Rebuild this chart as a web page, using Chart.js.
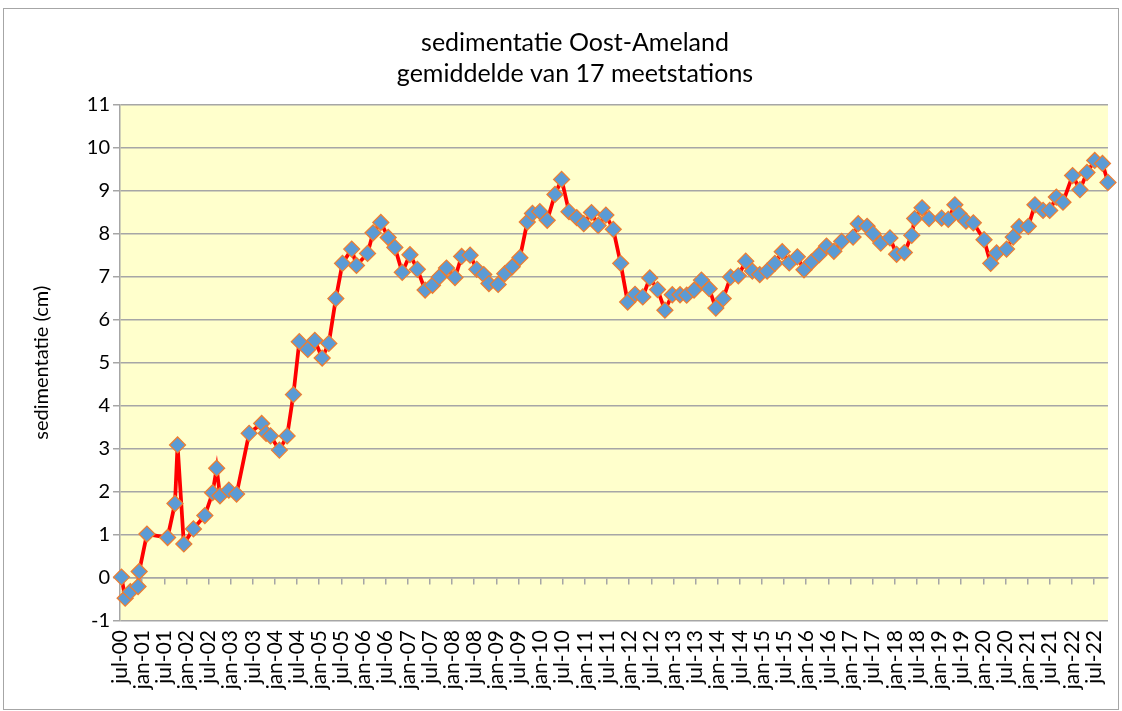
<!DOCTYPE html>
<html>
<head>
<meta charset="utf-8">
<script src="https://cdn.jsdelivr.net/npm/chart.js@4.4.1/dist/chart.umd.min.js"></script>
<style>
  body { margin: 0; background: #fff; }
</style>
</head>
<body>
<canvas id="myChart" width="1122" height="711"></canvas>
<script>
// maanden sinds 1 juli 2000 (meetmoment)
var maanden = [
    0.4, 1.4, 2.8, 4.9, 5.2, 7.3, 12.9, 14.9, 15.6, 17.3,
    19.9, 23.0, 25.1, 26.2, 27.1, 29.5, 31.6, 35.0, 38.4, 39.6,
    40.8, 43.2, 45.3, 47.0, 48.6, 50.9, 52.8, 54.8, 56.6, 58.5,
    60.3, 62.8, 64.1, 67.1, 68.6, 70.7, 72.7, 74.5, 76.5, 78.6,
    80.6, 82.7, 84.7, 86.5, 88.5, 90.8, 92.6, 94.9, 96.7, 98.6,
    100.0, 102.5, 104.3, 106.3, 108.4, 110.4, 111.8, 113.8, 115.8, 117.9,
    119.7, 121.7, 123.8, 125.7, 127.8, 129.6, 131.7, 133.7, 135.7, 137.6,
    139.6, 141.7, 143.6, 145.7, 147.7, 149.7, 151.8, 153.6, 155.6, 157.6,
    159.7, 161.5, 163.5, 165.5, 167.6, 169.6, 171.4, 173.4, 175.4, 177.5,
    179.5, 181.4, 183.6, 185.4, 187.4, 189.5, 191.5, 193.5, 195.6, 198.7,
    200.1, 202.5, 204.1, 206.2, 208.7, 210.5, 212.6, 214.6, 215.4, 217.4,
    219.3, 222.7, 224.5, 226.3, 227.4, 229.3, 231.3, 234.2, 236.0, 237.6,
    240.3, 242.1, 243.7, 246.2, 248.0, 250.2, 252.0, 253.8, 255.6, 258.2,
    260.2, 262.1, 264.2, 266.3, 267.8
];

// gemiddelde sedimentatie (cm)
var sedimentatie = [
    0.02, -0.47, -0.32, -0.20, 0.15, 1.02, 0.94, 1.73, 3.09, 0.79,
    1.14, 1.45, 1.98, 2.55, 1.91, 2.04, 1.95, 3.36, 3.59, 3.36,
    3.30, 2.97, 3.30, 4.26, 5.49, 5.31, 5.52, 5.11, 5.45, 6.49,
    7.31, 7.64, 7.26, 7.54, 8.02, 8.26, 7.91, 7.68, 7.10, 7.51,
    7.17, 6.69, 6.80, 6.99, 7.20, 6.98, 7.47, 7.50, 7.17, 7.05,
    6.84, 6.82, 7.07, 7.23, 7.44, 8.27, 8.47, 8.51, 8.31, 8.91,
    9.26, 8.51, 8.37, 8.23, 8.49, 8.19, 8.43, 8.10, 7.31, 6.41,
    6.59, 6.53, 6.97, 6.70, 6.22, 6.58, 6.58, 6.57, 6.69, 6.92,
    6.72, 6.27, 6.49, 6.99, 7.02, 7.36, 7.13, 7.05, 7.13, 7.31,
    7.58, 7.32, 7.46, 7.16, 7.34, 7.51, 7.71, 7.59, 7.82, 7.92,
    8.23, 8.17, 8.00, 7.78, 7.90, 7.52, 7.56, 7.96, 8.35, 8.60,
    8.35, 8.36, 8.33, 8.67, 8.46, 8.29, 8.25, 7.86, 7.31, 7.55,
    7.64, 7.92, 8.16, 8.17, 8.67, 8.54, 8.54, 8.85, 8.73, 9.35,
    9.02, 9.42, 9.70, 9.63, 9.19
];

// as-labels, elke 6 maanden vanaf jul-00
var xTickMaanden = [];
for (var m = 0; m <= 264; m += 6) xTickMaanden.push(m);
var xTickLabels = [
    "jul-00", "jan-01", "jul-01", "jan-02", "jul-02", "jan-03", "jul-03", "jan-04", "jul-04",
    "jan-05", "jul-05", "jan-06", "jul-06", "jan-07", "jul-07", "jan-08", "jul-08", "jan-09",
    "jul-09", "jan-10", "jul-10", "jan-11", "jul-11", "jan-12", "jul-12", "jan-13", "jul-13",
    "jan-14", "jul-14", "jan-15", "jul-15", "jan-16", "jul-16", "jan-17", "jul-17", "jan-18",
    "jul-18", "jan-19", "jul-19", "jan-20", "jul-20", "jan-21", "jul-21", "jan-22", "jul-22"
];

var xMin = 0, xMax = 267.8;
var fontName = "Lato, 'Open Sans', sans-serif";
var grijs = "#A6A6A6";
var links = 42;   // layout-padding links, zodat de titel rond x=575 staat

var punten = maanden.map(function (m, i) {
    return { x: m, y: sedimentatie[i] };
});

var zetTicks = function (scale) {
    scale.ticks = xTickMaanden.map(function (v) { return { value: v }; });
};

var achtergrond = {
    id: 'achtergrond',
    beforeDraw: function (chart) {
        var c = chart.ctx, a = chart.chartArea;
        c.save();
        c.fillStyle = '#ffffff';
        c.fillRect(0, 0, chart.width, chart.height);
        c.fillStyle = '#FFFFCC';
        c.fillRect(a.left, a.top, a.right - a.left, a.bottom - a.top);
        c.restore();
    },
    afterDraw: function (chart) {
        var c = chart.ctx;
        c.save();
        c.strokeStyle = grijs;
        c.lineWidth = 1;
        c.strokeRect(3.5, 8.5, chart.width - 7, chart.height - 10);
        c.restore();
    }
};

var ctx = document.getElementById("myChart");
var myChart = new Chart(ctx, {
    type: 'line',
    data: {
        datasets: [{
            data: punten,
            xAxisID: 'x',
            yAxisID: 'y',
            borderColor: '#FF0000',
            borderWidth: 3.75,
            pointStyle: 'rectRot',
            pointRadius: 8,
            pointBackgroundColor: '#5B9BD5',
            pointBorderColor: '#ED7D31',
            pointBorderWidth: 1.25,
            tension: 0,
            clip: false
        }]
    },
    options: {
        responsive: false,
        animation: false,
        layout: { padding: { left: links, right: 14, top: 0, bottom: 0 } },
        plugins: {
            legend: { display: false },
            tooltip: { enabled: false },
            title: {
                display: true,
                text: ['sedimentatie Oost-Ameland', 'gemiddelde van 17 meetstations'],
                color: '#000',
                font: { family: fontName, size: 25, weight: 'normal', lineHeight: 1.25 },
                padding: { top: 27, bottom: 15 }
            }
        },
        scales: {
            x: {
                type: 'linear',
                position: 'bottom',
                min: xMin,
                max: xMax,
                afterBuildTicks: zetTicks,
                afterFit: function (scale) {
                    scale.height = 90;
                    scale.paddingRight = 0;
                },
                grid: { display: false, drawTicks: false },
                border: { display: false },
                ticks: {
                    autoSkip: false,
                    maxRotation: 90,
                    minRotation: 90,
                    padding: 9,
                    color: '#000',
                    font: { family: fontName, size: 21 },
                    callback: function (v, i) { return xTickLabels[i]; }
                }
            },
            x0: {
                type: 'linear',
                position: { y: 0 },
                min: xMin,
                max: xMax,
                afterBuildTicks: zetTicks,
                grid: { drawOnChartArea: false, drawTicks: true, tickLength: 6, color: grijs, lineWidth: 1.5 },
                border: { display: true, color: grijs, width: 1.5 },
                ticks: { display: false }
            },
            y: {
                min: -1,
                max: 11,
                afterFit: function (scale) { scale.width = 120 - links; },
                grid: { color: grijs, lineWidth: 1.5, tickLength: 7 },
                border: { color: grijs, width: 1.5 },
                ticks: {
                    stepSize: 1,
                    padding: 3,
                    color: '#000',
                    font: { family: fontName, size: 20 }
                },
                title: {
                    display: true,
                    text: 'sedimentatie (cm)',
                    color: '#000',
                    font: { family: fontName, size: 20 },
                    padding: { top: -12, bottom: 0 }
                }
            }
        }
    },
    plugins: [achtergrond]
});
</script>
</body>
</html>
